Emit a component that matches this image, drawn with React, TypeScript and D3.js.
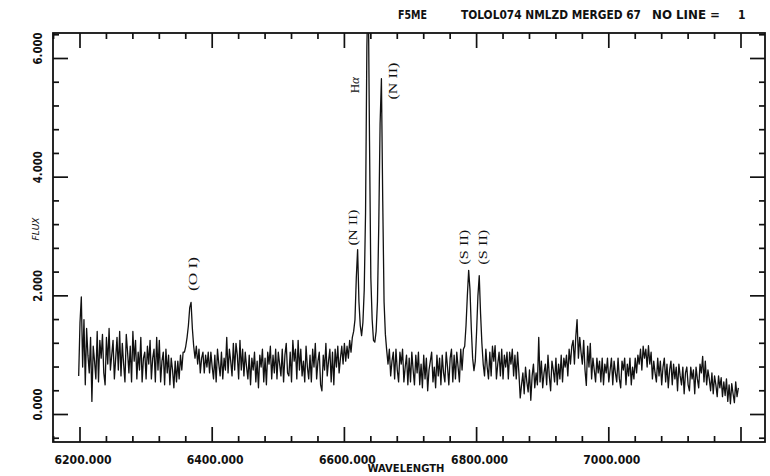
import React from "react";
import * as d3 from "d3";

// ---- data ----
const WAVE_START = 6198; // first sample wavelength
const WAVE_STEP = 2; // sampling step, Angstrom
const FLUX: number[] = [
  // 6198 - 6246
  0.65, 1.55, 1.98, 0.8, 1.6, 0.5, 1.45, 1.0, 0.7, 1.3, 0.22, 1.15, 0.9, 0.6, 1.4, 0.55, 1.25, 0.95, 1.35, 0.7, 0.5, 1.3, 0.85, 1.45, 0.75,
  // 6248 - 6296
  1.0, 1.25, 0.6, 0.95, 1.3, 0.75, 1.4, 0.65, 1.2, 0.85, 0.55, 1.35, 1.05, 0.7, 1.15, 0.55, 1.4, 0.9, 1.25, 0.6, 1.05, 0.75, 1.3, 0.55, 0.95,
  // 6298 - 6346
  1.05, 0.6, 1.15, 0.85, 1.25, 0.6, 0.95, 1.1, 0.55, 1.3, 0.75, 1.25, 0.55, 0.9, 1.05, 0.5, 1.1, 0.7, 1.0, 0.5, 0.95, 0.75, 0.45, 0.9, 0.55,
  // 6348 - 6396  ([O I])
  0.9, 0.6, 1.0, 0.75, 1.05, 1.05, 1.15, 1.3, 1.5, 1.8, 1.89, 1.45, 1.15, 0.95, 1.15, 0.85, 1.1, 0.7, 0.95, 1.05, 0.7, 1.0, 0.8, 1.05, 0.7,
  // 6398 - 6446
  1.05, 0.8, 0.6, 1.0, 0.55, 1.1, 0.85, 0.65, 1.05, 0.6, 0.95, 0.75, 1.3, 0.7, 1.1, 0.9, 0.65, 1.2, 0.75, 1.2, 1.0, 0.6, 1.25, 0.75, 1.1,
  // 6448 - 6496
  0.65, 1.05, 0.8, 0.6, 1.0, 0.5, 0.95, 0.75, 1.05, 0.55, 0.9, 0.45, 1.0, 0.8, 1.1, 0.55, 0.95, 0.5, 1.05, 0.85, 1.15, 0.6, 1.0, 0.7, 1.1,
  // 6498 - 6546
  0.6, 1.05, 0.85, 0.65, 1.1, 0.55, 1.0, 1.2, 0.7, 0.65, 1.05, 0.55, 1.25, 0.9, 1.1, 0.6, 1.25, 0.75, 1.1, 0.65, 0.9, 0.55, 1.15, 0.8, 0.6,
  // 6548 - 6596
  1.0, 0.55, 1.1, 0.8, 1.2, 0.6, 0.9, 1.05, 0.5, 0.4, 1.0, 0.75, 1.2, 0.65, 0.9, 1.1, 0.55, 1.05, 0.5, 1.1, 0.8, 1.15, 0.7, 0.95, 1.15,
  // 6598 - 6646  ([N II], H-alpha)
  0.85, 1.2, 0.9, 1.15, 0.95, 1.25, 1.05, 1.3, 1.4, 1.6, 2.3, 2.78, 1.9, 1.5, 1.33, 1.55, 2.1, 3.4, 6.2, 7.3, 4.6, 2.3, 1.6, 1.25, 1.22,
  // 6648 - 6696  ([N II])
  1.4, 1.9, 3.2, 4.9, 5.66, 3.6, 1.9, 1.35, 1.08, 0.85, 1.1, 0.65, 0.9, 1.05, 0.6, 1.1, 0.75, 0.55, 1.05, 0.85, 1.1, 0.55, 0.8, 1.0, 0.5,
  // 6698 - 6746
  0.95, 0.55, 1.05, 0.75, 0.5, 1.0, 0.7, 1.05, 0.5, 0.85, 0.45, 1.0, 0.6, 0.95, 0.4, 0.75, 0.9, 1.05, 0.55, 0.8, 0.45, 1.0, 0.65, 0.95, 0.5,
  // 6748 - 6796  ([S II])
  1.0, 0.7, 0.55, 1.05, 0.8, 0.5, 0.95, 1.1, 0.55, 1.0, 0.6, 1.05, 0.8, 0.55, 1.1, 0.75, 1.1, 1.15, 1.5, 2.0, 2.43, 2.1, 1.45, 0.95, 0.74,
  // 6798 - 6846  ([S II])
  0.9, 1.4, 2.0, 2.34, 1.7, 1.2, 0.85, 0.65, 1.1, 0.8, 0.6, 1.05, 0.65, 1.15, 0.9, 1.16, 0.6, 0.85, 1.05, 0.65, 1.1, 0.6, 1.0, 0.8, 1.05,
  // 6848 - 6896
  0.6, 1.05, 0.85, 1.1, 0.65, 1.0, 0.6, 1.05, 0.7, 0.28, 0.5, 0.7, 0.35, 0.8, 0.55, 0.38, 0.75, 0.24, 0.65, 0.85, 0.45, 0.7, 0.5, 1.3, 0.55,
  // 6898 - 6946
  0.9, 0.45, 0.7, 0.85, 0.5, 1.0, 0.65, 0.4, 0.9, 0.75, 0.55, 0.95, 0.5, 0.85, 0.6, 1.0, 0.55, 0.95, 0.8, 1.0, 0.65, 1.1, 0.85, 1.15, 1.25,
  // 6948 - 6996
  0.85, 1.3, 1.6, 0.95, 1.3, 1.05, 0.85, 1.25, 0.75, 0.49, 1.15, 0.8, 1.2, 0.6, 0.95, 0.75, 0.55, 0.95, 0.7, 0.9, 0.55, 0.95, 0.5, 0.85, 0.7,
  // 6998 - 7046
  0.95, 0.55, 0.75, 0.95, 0.5, 0.9, 0.7, 0.55, 0.95, 0.6, 0.45, 0.9, 0.75, 0.95, 0.5, 0.85, 0.65, 0.95, 0.5, 0.8, 0.6, 0.95, 0.7, 1.0, 0.85,
  // 7048 - 7096
  1.1, 0.75, 1.15, 0.95, 1.1, 0.8, 1.16, 0.85, 1.05, 0.6, 0.9, 0.7, 0.55, 0.95, 0.65, 0.9, 0.5, 0.8, 0.95, 0.55, 0.85, 0.45, 0.75, 0.9, 0.5,
  // 7098 - 7146
  0.85, 0.6, 0.8, 0.4, 0.85, 0.65, 0.5, 0.8, 0.35, 0.7, 0.8, 0.5, 0.4, 0.8, 0.6, 0.75, 0.35, 0.8, 0.6, 0.45, 0.85, 0.7, 0.98, 0.55, 0.9,
  // 7148 - 7196
  0.5, 0.75, 0.6, 0.4, 0.7, 0.35, 0.65, 0.5, 0.3, 0.65, 0.45, 0.62, 0.3, 0.55, 0.32, 0.6, 0.22, 0.5, 0.18, 0.52, 0.35, 0.2, 0.55, 0.3, 0.45,
];

const X_MAJOR_TICKS = [6200, 6400, 6600, 6800, 7000, 7200];
const X_LABELS = ["6200.000", "6400.000", "6600.000", "6800.000", "7000.000"];
const Y_MAJOR_TICKS = [0, 2, 4, 6];
const Y_LABELS = ["0.000", "2.000", "4.000", "6.000"];
const X_MINOR_STEP = 40;
const Y_MINOR_STEP = 0.4;

const LINE_NAMES = ["(O I)", "(N II)", "H", "(N II)", "(S II)", "(S II)"];
const LINE_LABEL_WAVE = [6371, 6613, 6616, 6673, 6781, 6809];
const LINE_LABEL_FLUX = [2.37, 3.15, 5.55, 5.62, 2.82, 2.82];
const LINE_LABEL_LEN = [34, 36, 0, 37, 35, 35];

const TITLE_LEFT = "F5ME";
const TITLE_MID = "TOLOL074 NMLZD MERGED 67";
const TITLE_RIGHT = "NO LINE =";
const TITLE_NUM = "1";

// ---- layout ----
const W = 770;
const H = 476;
const FRAME = { left: 53, right: 765, top: 33, bottom: 442 };
const PLOT_FONT = "'DejaVu Sans Condensed', 'DejaVu Sans', 'Liberation Sans', sans-serif";
const SERIF = "'Liberation Serif', 'DejaVu Serif', serif";

export default function App() {
  const x = d3.scaleLinear().domain([6200, 7200]).range([80, 741]);
  const y = d3.scaleLinear().domain([0, 6]).range([414.5, 58.5]);
  const xMin = x.invert(FRAME.left);
  const xMax = x.invert(FRAME.right);
  const yMin = y.invert(FRAME.bottom);
  const yMax = y.invert(FRAME.top);

  const pts: [number, number][] = FLUX.map((f, i) => [WAVE_START + i * WAVE_STEP, f]);
  const linePath = d3
    .line<[number, number]>()
    .x((d) => x(d[0]))
    .y((d) => y(d[1]))(pts) as string;

  const xMinor = d3
    .range(Math.ceil(xMin / X_MINOR_STEP), Math.floor(xMax / X_MINOR_STEP) + 1)
    .map((k) => k * X_MINOR_STEP);
  const yMinor = d3
    .range(Math.ceil(yMin / Y_MINOR_STEP - 1e-6), Math.floor(yMax / Y_MINOR_STEP + 1e-6) + 1)
    .map((k) => +(k * Y_MINOR_STEP).toFixed(2));

  const MAJ = 15;
  const MIN = 6;

  return (
    <svg
      width={W}
      height={H}
      viewBox={`0 0 ${W} ${H}`}
      style={{ position: "absolute", left: 0, top: 0, background: "#fff" }}
    >
      <defs>
        <clipPath id="plotClip">
          <rect x={FRAME.left} y={FRAME.top} width={FRAME.right - FRAME.left} height={FRAME.bottom - FRAME.top} />
        </clipPath>
      </defs>
      <rect x={0} y={0} width={W} height={H} fill="#fff" />

      {/* title */}
      <g fontFamily={PLOT_FONT} fontSize={12} fontWeight="bold" fill="#111">
        <text x={398} y={19} textLength={29} lengthAdjust="spacingAndGlyphs">{TITLE_LEFT}</text>
        <text x={461} y={19} textLength={180} lengthAdjust="spacingAndGlyphs">{TITLE_MID}</text>
        <text x={652} y={19} textLength={68} lengthAdjust="spacingAndGlyphs">{TITLE_RIGHT}</text>
        <text x={738} y={19}>{TITLE_NUM}</text>
      </g>

      {/* frame */}
      <rect
        x={FRAME.left}
        y={FRAME.top}
        width={FRAME.right - FRAME.left}
        height={FRAME.bottom - FRAME.top}
        fill="none"
        stroke="#111"
        strokeWidth={1.8}
      />

      {/* ticks on all four sides */}
      <g stroke="#111" strokeWidth={1.7}>
        {xMinor.map((v) => {
          const major = X_MAJOR_TICKS.includes(v);
          const len = major ? MAJ : MIN;
          const px = x(v);
          return (
            <g key={`xt${v}`}>
              <line x1={px} x2={px} y1={FRAME.bottom} y2={FRAME.bottom - len} />
              <line x1={px} x2={px} y1={FRAME.top} y2={FRAME.top + len} />
            </g>
          );
        })}
        {yMinor.map((v) => {
          const major = Y_MAJOR_TICKS.includes(v);
          const len = major ? MAJ : MIN;
          const py = y(v);
          return (
            <g key={`yt${v}`}>
              <line x1={FRAME.left} x2={FRAME.left + len} y1={py} y2={py} />
              <line x1={FRAME.right} x2={FRAME.right - len} y1={py} y2={py} />
            </g>
          );
        })}
      </g>

      {/* x tick labels */}
      <g fontFamily={PLOT_FONT} fontSize={13} fontWeight="bold" fill="#111">
        {X_LABELS.map((t, i) => (
          <text
            key={t}
            x={x(X_MAJOR_TICKS[i]) + 3}
            y={464}
            textAnchor="middle"
            textLength={57}
            lengthAdjust="spacingAndGlyphs"
          >
            {t}
          </text>
        ))}
        <text x={406} y={472} textAnchor="middle" fontSize={11} textLength={77} lengthAdjust="spacingAndGlyphs">
          WAVELENGTH
        </text>
      </g>

      {/* y tick labels */}
      <g fontFamily={PLOT_FONT} fontSize={13} fontWeight="bold" fill="#111">
        {Y_LABELS.map((t, i) => (
          <text
            key={t}
            transform={`translate(42,${y(Y_MAJOR_TICKS[i]) - 10}) rotate(-90)`}
            textAnchor="middle"
            textLength={32}
            lengthAdjust="spacingAndGlyphs"
          >
            {t}
          </text>
        ))}
        <text
          transform="translate(39,229) rotate(-90)"
          textAnchor="middle"
          fontSize={9.5}
          fontWeight="normal"
          fontStyle="italic"
          textLength={23}
          lengthAdjust="spacingAndGlyphs"
        >
          FLUX
        </text>
      </g>

      {/* spectrum */}
      <path
        d={linePath}
        fill="none"
        stroke="#111"
        strokeWidth={1.3}
        strokeLinejoin="round"
        clipPath="url(#plotClip)"
      />

      {/* line identifications */}
      <g fontFamily={SERIF} fontSize={13} fill="#111">
        {LINE_NAMES.map((name, i) => (
          <text
            key={`ln${i}`}
            transform={`translate(${x(LINE_LABEL_WAVE[i]) + 4},${y(LINE_LABEL_FLUX[i])}) rotate(-90)`}
            textAnchor="middle"
            {...(LINE_LABEL_LEN[i] ? { textLength: LINE_LABEL_LEN[i], lengthAdjust: "spacingAndGlyphs" } : {})}
          >
            {name}
            {name === "H" ? <tspan fontStyle="italic">α</tspan> : null}
          </text>
        ))}
      </g>
    </svg>
  );
}
